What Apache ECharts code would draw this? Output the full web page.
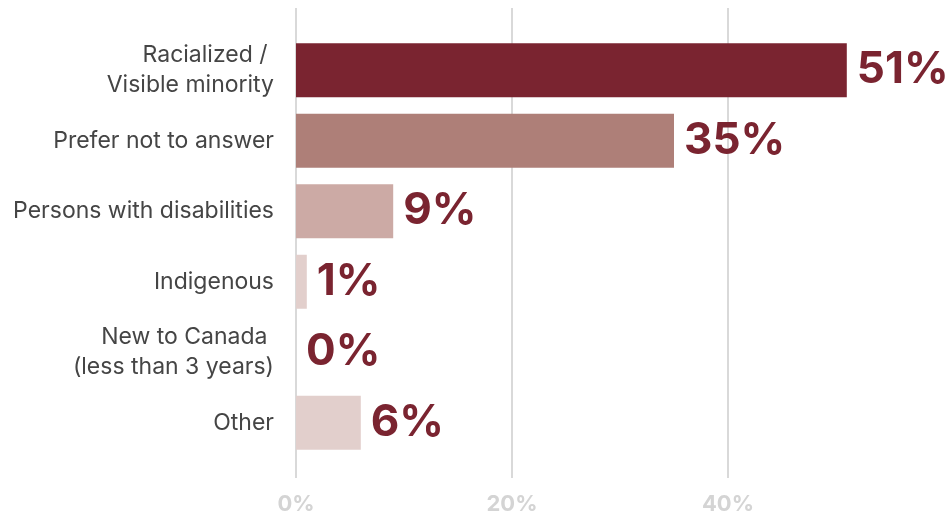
<!DOCTYPE html>
<html>
<head>
<meta charset="utf-8">
<script src="https://cdn.jsdelivr.net/npm/echarts@6/dist/echarts.min.js"></script>
<style>
  html, body { margin: 0; padding: 0; background: #ffffff; }
  #chart { width: 948px; height: 519px; }
</style>
</head>
<body>
<div id="chart"></div>
<script>
// Survey responses: share of respondents per identity group (%)
const categories = [
  'Racialized / \nVisible minority',
  'Prefer not to answer',
  'Persons with disabilities',
  'Indigenous',
  'New to Canada \n(less than 3 years)',
  'Other'
];
const values = [51, 35, 9, 1, 0, 6];
const barColors = ['#7a2430', '#ae7f78', '#ccaaa5', '#e2cfcc', '#e2cfcc', '#e2cfcc'];
const tickValues = [0, 20, 40];

const FONT = 'Inter, "Open Sans", sans-serif';
const chart = echarts.init(document.getElementById('chart'), null, { renderer: 'canvas' });

chart.setOption({
  backgroundColor: '#ffffff',
  animation: false,
  grid: [
    // bars
    { left: 296, right: 4, top: 35, bottom: 61 },
    // percentage scale with gridlines (0–40)
    { left: 296, width: 432, top: 8, bottom: 41 }
  ],
  xAxis: [
    {
      gridIndex: 0, type: 'value', min: 0, max: 60, interval: 20,
      show: false, splitLine: { show: false }
    },
    {
      gridIndex: 1, type: 'value', min: tickValues[0], max: tickValues[tickValues.length - 1], interval: 20,
      axisLine: { show: false }, axisTick: { show: false },
      splitLine: { show: true, lineStyle: { color: '#d9d9d9', width: 2 } },
      axisLabel: {
        margin: 15, color: '#d4d4d4', fontFamily: FONT, fontWeight: 'bold', fontSize: 22,
        formatter: v => tickValues.includes(v) ? v + '%' : ''
      }
    }
  ],
  yAxis: [
    {
      gridIndex: 0, type: 'category', data: categories, inverse: true,
      axisLine: { show: false }, axisTick: { show: false }, splitLine: { show: false },
      axisLabel: {
        margin: 22, color: '#454545', fontFamily: FONT, fontSize: 23, lineHeight: 30, align: 'right'
      }
    },
    {
      gridIndex: 1, type: 'value', show: false, min: 0, max: 1
    }
  ],
  series: [
    {
      type: 'bar',
      xAxisIndex: 0, yAxisIndex: 0,
      barWidth: 54,
      data: values.map((v, i) => ({ value: v, itemStyle: { color: barColors[i] } })),
      label: {
        show: true, position: 'right', distance: 10,
        formatter: p => p.value + '%',
        color: '#7a2430', fontFamily: FONT, fontWeight: 'bold', fontSize: 44
      }
    }
  ]
});
</script>
</body>
</html>
